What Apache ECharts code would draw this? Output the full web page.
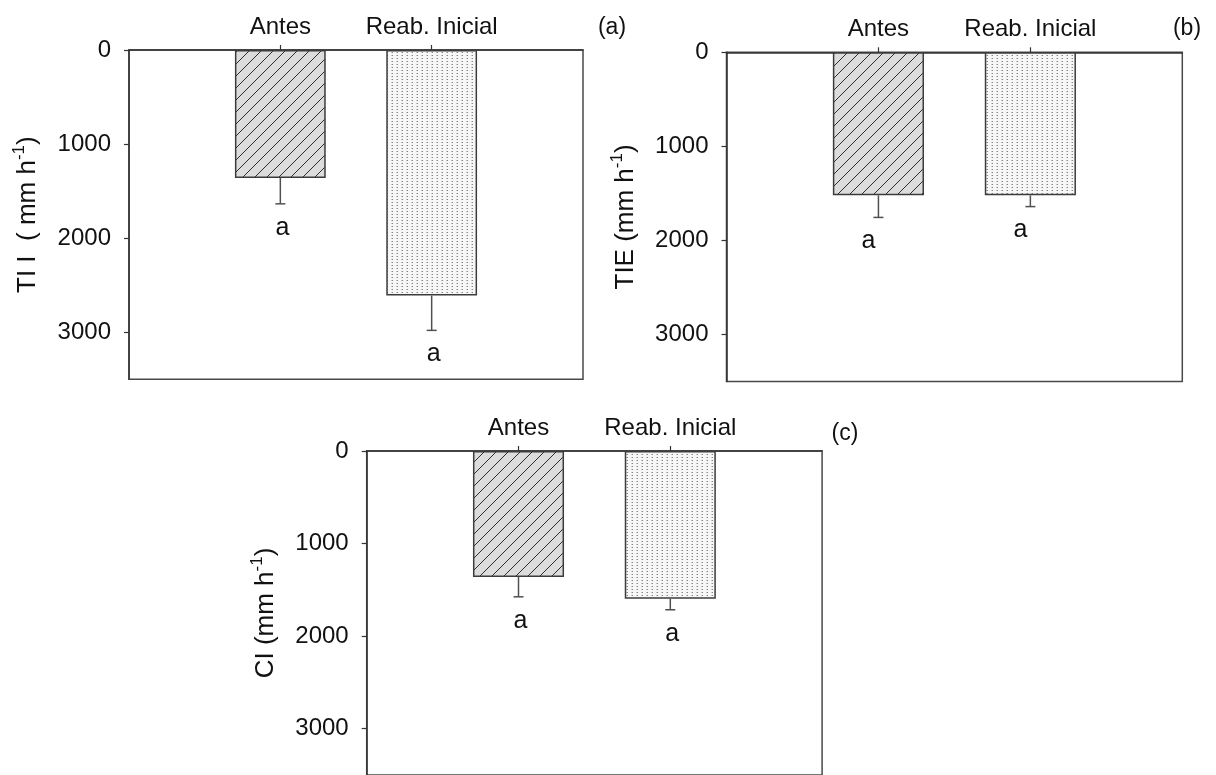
<!DOCTYPE html>
<html>
<head>
<meta charset="utf-8">
<script src="https://cdn.jsdelivr.net/npm/echarts@6/dist/echarts.min.js"></script>
<style>
  html, body { margin: 0; padding: 0; background: #fff; }
  #chart { width: 1216px; height: 775px; }
</style>
</head>
<body>
<div id="chart"></div>
<script>
// Infiltration rates before closing and at the initial reopening
const categories = ['Antes', 'Reab. Inicial'];
const yTicks = [0, 1000, 2000, 3000];
const panelTags = ['(a)', '(b)', '(c)'];
const yNames = ['TI I  ( mm h', 'TIE (mm h', 'CI (mm h'];

// means and error bars (mm h-1)
const tiiMean = [1360, 2610];
const tiiErr  = [275, 370];
const tieMean = [1520, 1520];
const tieErr  = [235, 120];
const ciMean  = [1360, 1595];
const ciErr   = [215, 120];

// significance letters
const tiiLetters = ['a', 'a'];
const tieLetters = ['a', 'a'];
const ciLetters  = ['a', 'a'];

const FONT = "'Liberation Sans', Arial, Helvetica, sans-serif";

function hatchPattern() {
  const s = 12;
  const c = document.createElement('canvas');
  c.width = s; c.height = s;
  const g = c.getContext('2d');
  g.fillStyle = '#dcdcdc';
  g.fillRect(0, 0, s, s);
  g.strokeStyle = '#2e2e2e';
  g.lineWidth = 1;
  g.beginPath();
  g.moveTo(-1, s + 1); g.lineTo(s + 1, -1);
  g.moveTo(-1, 1); g.lineTo(1, -1);
  g.moveTo(s - 1, s + 1); g.lineTo(s + 1, s - 1);
  g.stroke();
  return c;
}

function dotPattern() {
  const c = document.createElement('canvas');
  c.width = 5; c.height = 3;
  const g = c.getContext('2d');
  g.fillStyle = '#f7f7f7';
  g.fillRect(0, 0, 5, 3);
  g.fillStyle = '#c4c4c4';
  g.fillRect(1, 1, 1, 1);
  g.fillStyle = '#858585';
  g.fillRect(2, 1, 1, 1);
  return c;
}

const fills = [
  { image: hatchPattern(), repeat: 'repeat' },
  { image: dotPattern(), repeat: 'repeat' }
];

const panels = [
  { mean: tiiMean, err: tiiErr, letters: tiiLetters, name: yNames[0], dx: 2 },
  { mean: tieMean, err: tieErr, letters: tieLetters, name: yNames[1], dx: -10 },
  { mean: ciMean,  err: ciErr,  letters: ciLetters,  name: yNames[2], dx: 2 }
];

const grids = [
  { left: 129,   top: 50,   width: 454,   height: 329.3 },
  { left: 726.5, top: 52.3, width: 455.8, height: 329.3 },
  { left: 366.7, top: 451,  width: 455.4, height: 329.3 }
];

const axisCats = [''].concat(categories, ['']);

// error bar below each bar, capped, with its letter underneath
function errorRenderer(letters, dx) {
  return function (params, api) {
    const i = api.value(0), m = api.value(1), e = api.value(2);
    const p0 = api.coord([i, m]);
    const p1 = api.coord([i, m + e]);
    const x = p0[0];
    const stroke = { stroke: '#505050', lineWidth: 1.5 };
    return {
      type: 'group',
      children: [
        { type: 'line', shape: { x1: x, y1: p0[1], x2: x, y2: p1[1] }, style: stroke },
        { type: 'line', shape: { x1: x - 5, y1: p1[1], x2: x + 5, y2: p1[1] }, style: stroke },
        { type: 'text', x: x + dx, y: p1[1] + 24,
          style: { text: letters[params.dataIndex], fill: '#111', fontSize: 25,
                   fontFamily: FONT, align: 'center', verticalAlign: 'middle' } }
      ]
    };
  };
}

const xAxes = [], yAxes = [], series = [];
panels.forEach(function (p, k) {
  xAxes.push({
    gridIndex: k, type: 'category', position: 'top', data: axisCats, boundaryGap: false,
    axisLine: { onZero: false, lineStyle: { color: '#333', width: 1.5 } },
    axisTick: { show: true, inside: false, length: 5, alignWithLabel: true,
                interval: function (idx) { return idx === 1 || idx === 2; },
                lineStyle: { color: '#333', width: 1.2 } },
    axisLabel: { interval: 0, margin: 11, fontSize: 24, color: '#111', fontFamily: FONT },
    splitLine: { show: false }
  });
  yAxes.push({
    gridIndex: k, type: 'value', inverse: true, min: 0, max: 3500, interval: 1000,
    name: '{n|' + p.name + '}{s|-1}{n|)}',
    nameLocation: 'middle', nameRotate: 90, nameGap: 84,
    nameTextStyle: {
      rich: {
        n: { fontSize: 26, fontFamily: FONT, color: '#111', lineHeight: 34 },
        s: { fontSize: 17, fontFamily: FONT, color: '#111', lineHeight: 17, verticalAlign: 'top' }
      }
    },
    axisLine: { show: true, lineStyle: { color: '#333', width: 1.5 } },
    axisTick: { show: true, inside: false, length: 5, customValues: yTicks,
                lineStyle: { color: '#333', width: 1.2 } },
    axisLabel: { margin: 18, fontSize: 24, color: '#111', fontFamily: FONT,
                 customValues: yTicks, formatter: function (v) { return String(v); } },
    splitLine: { show: false }
  });
  series.push({
    type: 'bar', xAxisIndex: k, yAxisIndex: k, barWidth: '60%',
    data: categories.map(function (c, i) {
      return { value: [c, p.mean[i]],
               itemStyle: { color: fills[i], borderColor: '#3c3c3c', borderWidth: 1.5 } };
    }),
    silent: true, animation: false
  });
  series.push({
    type: 'custom', xAxisIndex: k, yAxisIndex: k,
    data: categories.map(function (c, i) { return [i + 1, p.mean[i], p.err[i]]; }),
    renderItem: errorRenderer(p.letters, p.dx),
    silent: true, animation: false, z: 5
  });
});

const tagPos = [[612, 28], [1187, 29], [845, 434]];
const graphic = panelTags.map(function (t, k) {
  return { type: 'text', x: tagPos[k][0], y: tagPos[k][1],
           style: { text: t, fontSize: 23, fill: '#111', fontFamily: FONT,
                    align: 'center', verticalAlign: 'middle' } };
});

const chart = echarts.init(document.getElementById('chart'), null, { renderer: 'canvas' });
chart.setOption({
  backgroundColor: '#fff',
  animation: false,
  grid: grids.map(function (g) {
    return Object.assign({ show: true, borderColor: '#4a4a4a', borderWidth: 1.5,
                           backgroundColor: 'transparent', containLabel: false }, g);
  }),
  xAxis: xAxes,
  yAxis: yAxes,
  series: series,
  graphic: graphic
});
</script>
</body>
</html>
